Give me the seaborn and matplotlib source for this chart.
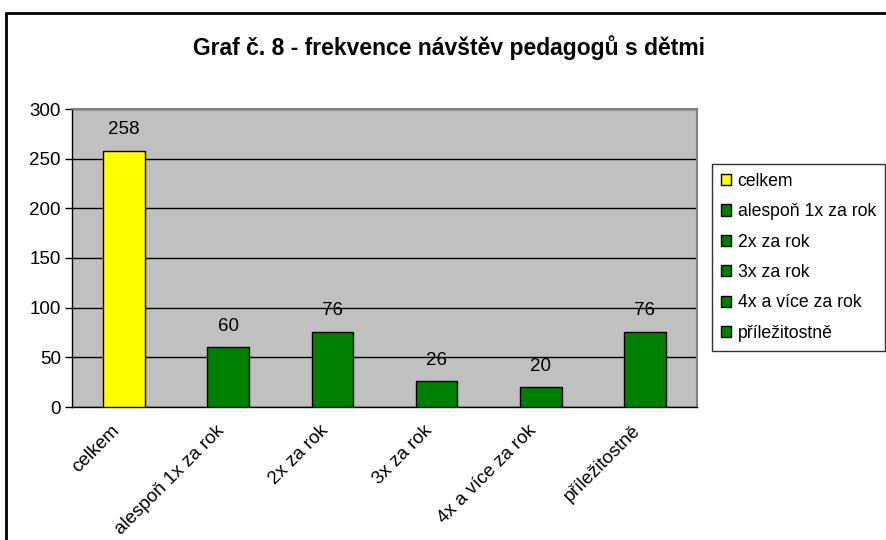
import matplotlib
matplotlib.use('Agg')
import matplotlib.pyplot as plt
import matplotlib.transforms as mtransforms
import seaborn as sns
import pandas as pd
from matplotlib.patches import Patch
from matplotlib.lines import Line2D

# data
categories = ['celkem', 'alespoň 1x za rok', '2x za rok', '3x za rok',
              '4x a více za rok', 'příležitostně']
values = [258, 60, 76, 26, 20, 76]
colors = ['#FFFF00', '#008000', '#008000', '#008000', '#008000', '#008000']

sns.set_style('white')
plt.rcParams['font.family'] = ['Liberation Sans', 'DejaVu Sans']
plt.rcParams['text.color'] = 'black'
plt.rcParams['xtick.color'] = 'black'
plt.rcParams['ytick.color'] = 'black'
plt.rcParams['axes.labelcolor'] = 'black'

df = pd.DataFrame({'kategorie': categories, 'pocet': values})

fig = plt.figure(figsize=(8.86, 5.40), dpi=100)
ax = fig.add_axes([72/886, 133/540, 625/886, 298/540])

sns.barplot(data=df, x='kategorie', y='pocet', hue='kategorie', palette=colors,
            saturation=1, width=0.4, edgecolor='black', linewidth=1,
            legend=False, ax=ax, zorder=3)

ax.set_facecolor('#C0C0C0')
ax.set_ylim(0, 300)
ax.set_xlim(-0.5, len(categories) - 0.5)
ax.set_yticks(range(0, 301, 50))
ax.yaxis.grid(True, color='black', linewidth=1)
ax.set_axisbelow(True)
ax.set_xlabel('')
ax.set_ylabel('')

# ticks at category borders, labels at centers
ax.set_xticks(range(len(categories)))
ax.set_xticklabels(categories, rotation=45, ha='right', va='center',
                   rotation_mode='anchor', fontsize=13.5)
ax.tick_params(axis='x', which='major', length=0, pad=15)
shift = mtransforms.ScaledTranslation(-5/72, 0, fig.dpi_scale_trans)
for lbl in ax.get_xticklabels():
    lbl.set_transform(lbl.get_transform() + shift)
ax.set_xticks([i - 0.5 for i in range(len(categories) + 1)], minor=True)
ax.tick_params(axis='x', which='minor', length=5, direction='out', color='black', width=1)
ax.tick_params(axis='y', length=5, direction='out', color='black', width=1,
               labelsize=13.5, left=True, pad=3)

for s in ['left', 'bottom']:
    ax.spines[s].set_color('black')
    ax.spines[s].set_linewidth(1)
for s in ['top', 'right']:
    ax.spines[s].set_color('#808080')
    ax.spines[s].set_linewidth(1.5)

for i, v in enumerate(values):
    ax.annotate(str(v), (i, v), xytext=(0, 15), textcoords='offset points',
                ha='center', va='center', fontsize=13.5)

fig.text(449/886, 1 - 48/540, 'Graf č. 8 - frekvence návštěv pedagogů s dětmi',
         ha='center', va='center', fontsize=16.5, fontweight='bold')

handles = [Patch(facecolor=c, edgecolor='black', linewidth=1) for c in colors]
leg = fig.legend(handles, categories, loc='upper left',
                 bbox_to_anchor=(712/886, 1 - 164/540), bbox_transform=fig.transFigure,
                 borderaxespad=0, fontsize=12.7, frameon=True, fancybox=False,
                 handlelength=0.6, handleheight=0.6, handletextpad=0.35,
                 labelspacing=0.76, borderpad=0.5)
leg.get_frame().set_edgecolor('black')
leg.get_frame().set_linewidth(1)

# outer chart border (only left and top visible)
fig.add_artist(Line2D([6/886, 6/886], [0, 1 - 13/540], color='black', lw=2,
                      transform=fig.transFigure))
fig.add_artist(Line2D([6/886, 1], [1 - 13/540, 1 - 13/540], color='black', lw=2,
                      transform=fig.transFigure))

fig.savefig('out.png', dpi=100)
